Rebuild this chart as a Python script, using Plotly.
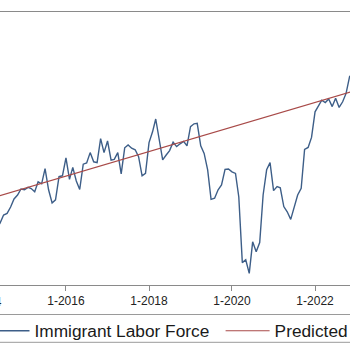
import pandas as pd
import plotly.graph_objects as go

# Monthly immigrant labor force (millions), Jan 2014 - Dec 2023
start_month = "2014-01-01"
labor_force = [
    25.33, 25.23, 25.38, 25.30, 25.43, 25.55, 25.75, 25.79, 25.95, 26.15, 26.25, 26.40,  # 2014
    26.38, 26.44, 26.41, 26.33, 26.58, 26.53, 26.91, 26.38, 26.05, 26.13, 26.71, 26.73,  # 2015
    27.18, 26.64, 26.94, 26.60, 26.39, 27.02, 27.05, 27.31, 27.08, 27.06, 27.66, 27.31,  # 2016
    27.60, 27.12, 27.14, 27.31, 26.78, 27.43, 27.50, 27.42, 27.38, 27.21, 26.73, 26.79,  # 2017
    27.56, 27.83, 28.15, 27.64, 27.13, 27.25, 27.36, 27.57, 27.46, 27.53, 27.59, 27.48,  # 2018
    27.96, 28.03, 28.04, 27.48, 27.29, 26.88, 26.14, 26.17, 26.38, 26.50, 26.89, 26.90,  # 2019
    26.83, 26.79, 26.20, 24.56, 24.63, 24.29, 25.08, 24.83, 25.06, 26.25, 26.88, 27.06,  # 2020
    26.36, 26.46, 26.43, 25.96, 25.83, 25.64, 25.92, 26.25, 26.42, 27.39, 27.44, 27.69,  # 2021
    28.33, 28.50, 28.62, 28.56, 28.65, 28.46, 28.67, 28.44, 28.58, 28.79, 29.21, 29.30,  # 2022
    29.12, 29.35, 29.40, 29.28, 29.50, 29.45, 29.62, 29.55, 29.70, 29.66, 29.80, 29.75,  # 2023
]
dates = pd.date_range(start_month, periods=len(labor_force), freq="MS")

# Predicted (linear trend) end points
pred_dates = ["2014-01-01", "2023-12-01"]
pred_values = [26.11, 29.15]

series_names = ["Immigrant Labor Force", "Predicted Immigrant Labor Force"]
tick_start = "2016-01-01"
hidden_tick_label = "1-2014"

BLUE = "#3d5e88"
RED = "#a84a48"
GRAY = "#8a8a8a"
FONT = "Liberation Sans, Arial, sans-serif"

fig = go.Figure()
fig.add_trace(go.Scatter(x=dates, y=labor_force, mode="lines", name=series_names[0],
                         line=dict(color=BLUE, width=1.4), legend="legend"))
fig.add_trace(go.Scatter(x=pred_dates, y=pred_values, mode="lines", name=series_names[1],
                         line=dict(color=RED, width=1.1), legend="legend2"))

H_TOP, H_BOT = 12, 285
plot_h = H_BOT - H_TOP
def py(pix):
    return (H_BOT - pix) / plot_h

legend_common = dict(orientation="h", xanchor="left", yanchor="middle",
                     bgcolor="rgba(0,0,0,0)", borderwidth=0, itemwidth=44,
                     font=dict(family=FONT, size=17.3, color="#1a1a1a"),
                     itemclick=False, itemdoubleclick=False)

fig.update_layout(
    width=350, height=350,
    margin=dict(l=0, r=0, t=H_TOP, b=350 - H_BOT, pad=0, autoexpand=False),
    paper_bgcolor="white", plot_bgcolor="white",
    showlegend=True,
    legend=dict(x=-19.5 / 350, y=py(331), **legend_common),
    legend2=dict(x=220.6 / 350, y=py(331), **legend_common),
    xaxis=dict(
        type="date",
        range=["2014-05-30 12:00", "2022-11-04 14:00"],
        tick0=tick_start, dtick="M24", tickformat="%-m-%Y",
        ticks="outside", ticklen=5, tickwidth=1, tickcolor=GRAY,
        showline=True, linecolor=GRAY, linewidth=1, mirror=True,
        showgrid=False, zeroline=False, automargin=False,
        tickfont=dict(family=FONT, size=12, color="#222222"),
    ),
    yaxis=dict(range=[24, 24 + plot_h / 40], visible=False, showgrid=False,
               zeroline=False, automargin=False),
    shapes=[dict(type="rect", xref="paper", yref="paper",
                 x0=-0.1, x1=1.1, y0=py(342.3), y1=py(314.5),
                 line=dict(color="#9a9a9a", width=1), fillcolor="rgba(0,0,0,0)",
                 layer="below")],
    annotations=[dict(xref="paper", yref="paper", x=-17 / 350, y=py(302),
                      text=hidden_tick_label, showarrow=False,
                      xanchor="center", yanchor="middle",
                      font=dict(family=FONT, size=12, color="#222222"))],
)

fig.write_html("out.html")
